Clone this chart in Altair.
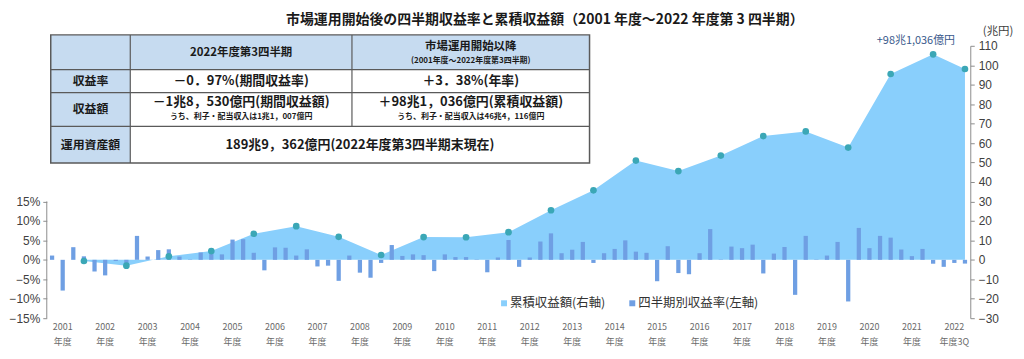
import altair as alt
import pandas as pd

# ---------------- data ----------------
TITLE = "市場運用開始後の四半期収益率と累積収益額（2001 年度～2022 年度第 3 四半期）"
UNIT_RIGHT = "(兆円)"
ANNOTATION = "+98兆1,036億円"
LEGEND_LABELS = ["累積収益額(右軸)", "四半期別収益率(左軸)"]

FISCAL_YEARS = ["2001", "2002", "2003", "2004", "2005", "2006", "2007", "2008",
                "2009", "2010", "2011", "2012", "2013", "2014", "2015", "2016",
                "2017", "2018", "2019", "2020", "2021", "2022"]
QUARTER_KEYS = [f"{y}Q{q}" for y in FISCAL_YEARS for q in (1, 2, 3, 4)][:87]

# quarterly return (%), left axis
QUARTERLY_RETURN = [
    1.1, -7.9, 3.25, 0.9,      # 2001
    -3.0, -4.0, -0.3, -1.5,    # 2002
    6.15, 0.85, 2.5, 2.7,      # 2003
    0.85, 0.1, 1.9, 2.1,       # 2004
    1.4, 5.2, 5.3, 1.8,        # 2005
    -2.7, 3.2, 3.1, 1.1,       # 2006
    2.7, -1.7, -1.5, -5.4,     # 2007
    1.1, -3.3, -4.6, -0.8,     # 2008
    3.8, 1.0, 1.4, 1.2,        # 2009
    -2.9, 1.4, 0.7, 0.7,       # 2010
    0.1, -3.2, 0.6, 5.1,       # 2011
    -1.8, 0.6, 4.7, 6.8,       # 2012
    1.7, 2.6, 4.6, -0.8,       # 2013
    1.7, 2.8, 5.0, 2.1,        # 2014
    1.8, -5.5, 3.5, -3.4,      # 2015
    -3.7, 1.7, 7.9, 0.1,       # 2016
    3.4, 3.0, 3.9, -3.5,       # 2017
    1.6, 3.3, -9.0, 6.15,      # 2018
    0.1, 1.1, 4.6, -10.7,      # 2019
    8.2, 3.0, 6.15, 5.7,       # 2020
    2.65, 0.95, 2.8, -1.0,     # 2021
    -1.8, -0.8, -0.97,         # 2022 (to Q3)
]

# cumulative income (trillion yen) at each fiscal year end, right axis
CUMULATIVE_KEYS = [f"{y}Q4" for y in FISCAL_YEARS[:-1]] + ["2022Q3"]
CUMULATIVE = [-0.6, -3.0, 1.8, 4.5, 13.4, 17.3, 11.8, 2.5, 11.7, 11.6, 14.2,
              25.5, 35.7, 51.0, 45.6, 53.6, 63.6, 66.0, 57.7, 95.5, 105.6, 98.1]

LEFT_TICKS = [-15, -10, -5, 0, 5, 10, 15]
RIGHT_TICKS = [-30, -20, -10, 0, 10, 20, 30, 40, 50, 60, 70, 80, 90, 100, 110]

TABLE_HEAD = ["2022年度第3四半期", "市場運用開始以降", "(2001年度～2022年度第3四半期)"]
TABLE_ROW_NAMES = ["収益率", "収益額", "運用資産額"]
TABLE_RATE = ["－0．97%(期間収益率)", "＋3．38%(年率)"]
TABLE_INCOME = ["－1兆8，530億円(期間収益額)", "うち、利子・配当収入は1兆1，007億円",
                "＋98兆1，036億円(累積収益額)", "うち、利子・配当収入は46兆4，116億円"]
TABLE_ASSETS = "189兆9，362億円(2022年度第3四半期末現在)"

# ---------------- layout / style ----------------
W, H = 929, 274
OX, OY = 47, 45          # page position of plot origin
JP = "Noto Sans CJK JP"
NUM = "Liberation Sans"
AREA_C = "#89cffc"
BAR_C = "#6f9fe3"
DOT_C = "#3ba7b6"
AX_C = "#8c8c8c"
TXT_C = "#404040"
HEAD_BG = "#c6dbf0"
LINE_C = "#5a5a5a"

bars_df = pd.DataFrame({"q": QUARTER_KEYS, "ret": QUARTERLY_RETURN})
cum_df = pd.DataFrame({"q": CUMULATIVE_KEYS, "cum": CUMULATIVE})
ann_df = pd.DataFrame({"q": [CUMULATIVE_KEYS[-1]], "cum": [CUMULATIVE[-1]], "t": [ANNOTATION]})

x_axis = alt.Axis(
    title=None, domain=False, ticks=False, labelAngle=0, labelOverlap=False,
    labelExpr=("substring(datum.value,4)=='Q2' ? [substring(datum.value,0,4), "
               "substring(datum.value,0,4)=='2022' ? '年度3Q' : '年度'] : ''"),
    labelFont=JP, labelFontSize=9, labelColor="#6a6a6a", labelPadding=4,
    labelLineHeight=15,
)
x_enc = alt.X("q:O", sort=None, axis=x_axis,
              scale=alt.Scale(type="band", domain=QUARTER_KEYS,
                              paddingInner=0.6, paddingOuter=0.3))

left_scale = alt.Scale(domain=[-15, 55], nice=False, zero=False)
right_scale = alt.Scale(domain=[-30, 110], nice=False, zero=False)

area = alt.Chart(cum_df).mark_area(color=AREA_C, opacity=1).encode(
    x=x_enc,
    y=alt.Y("cum:Q", scale=right_scale, axis=alt.Axis(
        orient="right", values=RIGHT_TICKS, title=None, grid=False,
        domain=True, domainColor=AX_C, ticks=True, tickSize=4, tickColor=AX_C,
        labelFont=NUM, labelFontSize=12, labelColor=TXT_C, labelPadding=4)),
)

bars = alt.Chart(bars_df).mark_bar(color=BAR_C).encode(
    x=x_enc,
    y=alt.Y("ret:Q", scale=left_scale, axis=alt.Axis(
        orient="left", values=LEFT_TICKS, title=None, grid=False,
        domain=False, ticks=True, tickSize=4, tickColor=AX_C,
        labelExpr="datum.label + '%'",
        labelFont=NUM, labelFontSize=12, labelColor=TXT_C, labelPadding=3)),
)

left_line = alt.Chart(alt.InlineData(values=[{"k": 0}])).mark_rule(
    color=AX_C, strokeWidth=1).encode(
    x=alt.value(0),
    y=alt.Y(datum=LEFT_TICKS[0], type="quantitative", scale=left_scale, axis=None),
    y2=alt.Y2(datum=LEFT_TICKS[-1]),
)

dots = alt.Chart(cum_df).mark_circle(color=DOT_C, opacity=1, size=45).encode(
    x=x_enc,
    y=alt.Y("cum:Q", scale=right_scale, axis=None),
)

annot = alt.Chart(ann_df).mark_text(
    font=JP, fontSize=11, color="#3a5a8c", align="right", dx=-10, dy=-28
).encode(
    x=x_enc,
    y=alt.Y("cum:Q", scale=right_scale, axis=None),
    text="t:N",
)

ONE = alt.InlineData(values=[{"k": 0}])


def text(txt, x, y, size, color="#1a1a1a", weight="normal", align="center", font=JP):
    return alt.Chart(ONE).mark_text(
        text=txt, font=font, fontSize=size, color=color, fontWeight=weight,
        align=align, baseline="middle",
    ).encode(x=alt.value(x - OX), y=alt.value(y - OY))


def rect(x0, x1, y0, y1, fill, stroke=None, sw=0):
    kw = dict(fill=fill, strokeWidth=sw)
    if stroke:
        kw["stroke"] = stroke
    return alt.Chart(ONE).mark_rect(**kw).encode(
        x=alt.value(x0 - OX), x2=alt.value(x1 - OX),
        y=alt.value(y0 - OY), y2=alt.value(y1 - OY))


def hline(x0, x1, y, sw=1.2):
    return alt.Chart(ONE).mark_rule(color=LINE_C, strokeWidth=sw).encode(
        x=alt.value(x0 - OX), x2=alt.value(x1 - OX), y=alt.value(y - OY))


def vline(x, y0, y1, sw=1.2):
    return alt.Chart(ONE).mark_rule(color=LINE_C, strokeWidth=sw).encode(
        x=alt.value(x - OX), y=alt.value(y0 - OY), y2=alt.value(y1 - OY))


TX = [51, 131, 354, 593]
TY = [34, 69, 92, 126, 163]

table = [
    rect(TX[0], TX[3], TY[0], TY[4], "white"),
    rect(TX[0], TX[3], TY[0], TY[1], HEAD_BG),
    rect(TX[0], TX[1], TY[1], TY[4], HEAD_BG),
    hline(TX[0], TX[3], TY[1]), hline(TX[0], TX[3], TY[2]), hline(TX[0], TX[3], TY[3]),
    vline(TX[1], TY[0], TY[4]), vline(TX[2], TY[0], TY[3]),
    rect(TX[0], TX[3], TY[0], TY[4], None, LINE_C, 1.5),
    text(TABLE_HEAD[0], (TX[1] + TX[2]) / 2, 52, 11.5, weight="bold"),
    text(TABLE_HEAD[1], (TX[2] + TX[3]) / 2, 46, 11.5, weight="bold"),
    text(TABLE_HEAD[2], (TX[2] + TX[3]) / 2, 60, 8, weight="bold"),
    text(TABLE_ROW_NAMES[0], (TX[0] + TX[1]) / 2, 80.5, 12, weight="bold"),
    text(TABLE_ROW_NAMES[1], (TX[0] + TX[1]) / 2, 109, 12, weight="bold"),
    text(TABLE_ROW_NAMES[2], (TX[0] + TX[1]) / 2, 144.5, 12, weight="bold"),
    text(TABLE_RATE[0], (TX[1] + TX[2]) / 2, 80.5, 13, weight="bold"),
    text(TABLE_RATE[1], (TX[2] + TX[3]) / 2, 80.5, 13, weight="bold"),
    text(TABLE_INCOME[0], (TX[1] + TX[2]) / 2, 102, 13, weight="bold"),
    text(TABLE_INCOME[1], (TX[1] + TX[2]) / 2, 116.5, 8, weight="bold"),
    text(TABLE_INCOME[2], (TX[2] + TX[3]) / 2, 102, 13, weight="bold"),
    text(TABLE_INCOME[3], (TX[2] + TX[3]) / 2, 116.5, 8, weight="bold"),
    text(TABLE_ASSETS, (TX[1] + TX[3]) / 2, 144.5, 13, weight="bold"),
]

legend = [
    rect(504, 510, 301, 307, AREA_C),
    text(LEGEND_LABELS[0], 513, 304, 12.5, color="#333333", align="left"),
    rect(633, 639, 301, 307, BAR_C),
    text(LEGEND_LABELS[1], 642, 304, 12.5, color="#333333", align="left"),
]

titles = [
    text(TITLE, 548, 19, 14, weight="bold"),
    text(UNIT_RIGHT, 1004, 31, 11.5, color=TXT_C),
]

chart = alt.layer(
    area, bars, left_line, dots, annot, *legend, *table, *titles
).resolve_scale(y="independent").properties(
    width=W, height=H,
    autosize=alt.AutoSizeParams(type="none"),
    padding={"left": OX - 8, "top": OY - 8, "right": 46, "bottom": 38},
    background="white",
).configure_view(stroke=None)

chart.save("out.html", embed_options={"renderer": "svg", "actions": False})
